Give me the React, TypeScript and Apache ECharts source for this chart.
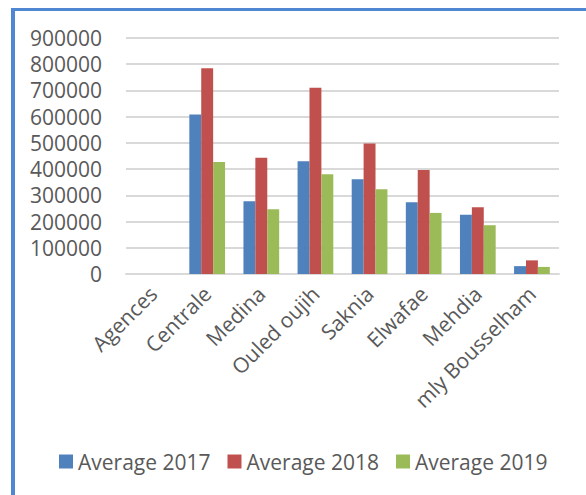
import React, { useEffect, useRef } from "react";
import * as echarts from "echarts";

const categories = [
  "Agences",
  "Centrale",
  "Medina",
  "Ouled oujih",
  "Saknia",
  "Elwafae",
  "Mehdia",
  "mly Bousselham",
];

const average2017 = [null, 608000, 277000, 430000, 361000, 274000, 226000, 30000];
const average2018 = [null, 785000, 443000, 710000, 498000, 397000, 255000, 52000];
const average2019 = [null, 427000, 247000, 380000, 323000, 233000, 186000, 27000];

const seriesNames = ["Average 2017", "Average 2018", "Average 2019"];
const seriesColors = ["#4f81bd", "#c0504d", "#9bbb59"];

const FONT = "'Open Sans', 'Noto Sans', sans-serif";
const TEXT_COLOR = "#595959";
const FONT_SIZE = 21;

export default function App() {
  const ref = useRef<HTMLDivElement>(null);

  useEffect(() => {
    if (!ref.current) return;
    const chart = echarts.init(ref.current, null, { renderer: "svg" });
    const values = [average2017, average2018, average2019];

    chart.setOption({
      animation: false,
      backgroundColor: "#ffffff",
      textStyle: { fontFamily: FONT },
      grid: { left: 126, right: 27, top: 38, bottom: 221 },
      legend: {
        data: seriesNames,
        left: 59,
        top: 451,
        padding: 0,
        icon: "rect",
        itemWidth: 14,
        itemHeight: 14,
        itemGap: 17,
        textStyle: { fontFamily: FONT, fontSize: FONT_SIZE, color: TEXT_COLOR },
      },
      xAxis: {
        type: "category",
        data: categories,
        axisLine: { show: true, lineStyle: { color: "#d9d9d9", width: 2 } },
        axisTick: { show: false },
        axisLabel: {
          interval: 0,
          rotate: 45,
          margin: 16,
          fontFamily: FONT,
          fontSize: FONT_SIZE,
          color: TEXT_COLOR,
        },
      },
      yAxis: {
        type: "value",
        min: 0,
        max: 900000,
        interval: 100000,
        axisLine: { show: false },
        axisTick: { show: false },
        splitLine: { lineStyle: { color: "#d9d9d9", width: 2 } },
        axisLabel: {
          margin: 24,
          fontFamily: FONT,
          fontSize: FONT_SIZE,
          color: TEXT_COLOR,
          formatter: (v: number) => String(v),
        },
      },
      series: seriesNames.map((name, i) => ({
        name,
        type: "bar",
        data: values[i],
        barGap: "0%",
        barCategoryGap: "34%",
        itemStyle: { color: seriesColors[i] },
      })),
      graphic: [
        {
          type: "rect",
          shape: { x: 11, y: 8, width: 4, height: 487 },
          style: { fill: "#4f87d2" },
          silent: true,
        },
        {
          type: "rect",
          shape: { x: 11, y: 8, width: 575, height: 3 },
          style: { fill: "#4f87d2" },
          silent: true,
        },
      ],
    });

    return () => chart.dispose();
  }, []);

  return (
    <div
      ref={ref}
      style={{ position: "absolute", left: 0, top: 0, width: 586, height: 495 }}
    />
  );
}
